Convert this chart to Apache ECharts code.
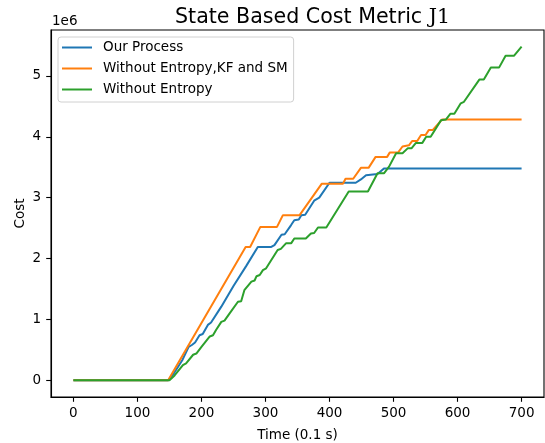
<!DOCTYPE html>
<html>
<head>
<meta charset="utf-8">
<script src="https://cdn.jsdelivr.net/npm/echarts@6/dist/echarts.min.js"></script>
<style>html,body{margin:0;padding:0;background:#fff;}#c{width:545px;height:443px;}</style>
</head>
<body>
<div id="c"></div>
<script>
// values in units of 1e6
const seriesNames = ['Our Process', 'Without Entropy,KF and SM', 'Without Entropy'];
const xTicks = [0, 100, 200, 300, 400, 500, 600, 700];
const yTicks = [0, 1, 2, 3, 4, 5];

const ourT = [0,148,156,170,180,185,190,197,202,210,215,231,250,270,288,309,314,325,330,340,345,352,356,362,376,384,400,441,449,457,475,485,700];
const ourV = [0,0,0.10,0.33,0.55,0.58,0.62,0.74,0.76,0.91,0.95,1.21,1.55,1.88,2.19,2.19,2.22,2.39,2.40,2.55,2.63,2.64,2.71,2.72,2.95,3.00,3.245,3.245,3.30,3.37,3.39,3.48,3.48];

const kfT = [0,148,269,276,292,318,327,353,388,421,425,437,449,461,472,490,494,507,514,524,529,537,543,550,555,561,576,700];
const kfV = [0,0,2.19,2.19,2.52,2.52,2.71,2.71,3.23,3.23,3.31,3.31,3.49,3.49,3.67,3.67,3.74,3.74,3.84,3.86,3.93,3.93,4.03,4.03,4.11,4.11,4.285,4.285];

const entT = [0,150,158,171,176,187,192,200,213,218,223,231,236,244,257,262,267,278,283,286,291,296,301,319,324,332,340,345,363,371,376,382,395,430,460,475,485,493,504,514,522,528,535,545,551,558,574,582,589,595,605,610,634,641,652,665,675,688,700];
const entV = [0,0,0.08,0.25,0.28,0.42,0.44,0.55,0.72,0.74,0.83,0.96,0.98,1.10,1.29,1.30,1.48,1.62,1.64,1.71,1.73,1.81,1.84,2.14,2.16,2.25,2.25,2.33,2.33,2.41,2.42,2.51,2.51,3.10,3.10,3.40,3.40,3.51,3.73,3.73,3.81,3.81,3.90,3.90,4.00,4.00,4.27,4.285,4.38,4.38,4.55,4.575,4.94,4.94,5.14,5.14,5.33,5.33,5.48];

const colors = ['#1f77b4', '#ff7f0e', '#2ca02c'];
const zip = (t, v) => t.map((x, i) => [x, v[i]]);
const FONT = 'DejaVu Sans';
const FS = 13.5;

const chart = echarts.init(document.getElementById('c'), null, {renderer: 'canvas'});
chart.setOption({
  animation: false,
  backgroundColor: '#fff',
  color: colors,
  title: {
    text: '{a|State Based Cost Metric }{b|J1}',
    left: 170, top: 2,
    textStyle: {
      fontWeight: 'normal',
      rich: {
        a: {fontFamily: FONT, fontSize: 20.6, fontWeight: 'normal', color: '#000'},
        b: {fontFamily: 'DejaVu Serif', fontSize: 20.6, fontWeight: 'normal', color: '#000'}
      }
    }
  },
  grid: {left: 51, right: 1, top: 30, bottom: 46, show: true, borderColor: '#000', borderWidth: 1.1, containLabel: false, outerBoundsMode: 'none'},
  legend: {
    left: 58, top: 37,
    orient: 'vertical',
    data: seriesNames,
    icon: 'rect',
    itemWidth: 30, itemHeight: 2,
    itemGap: 6,
    padding: [3, 6, 5, 4],
    backgroundColor: 'rgba(255,255,255,0.8)',
    borderColor: '#d0d0d0', borderWidth: 1, borderRadius: 3,
    textStyle: {fontFamily: FONT, fontSize: FS, color: '#000', lineHeight: 15, padding: [0, 0, 0, 6]}
  },
  graphic: [{
    type: 'text', left: 52, top: 14,
    style: {text: '1e6', fontFamily: FONT, fontSize: FS, fill: '#000'}
  }],
  xAxis: {
    type: 'value', min: -35, max: 735,
    name: 'Time (0.1 s)', nameLocation: 'middle', nameGap: 31,
    nameTextStyle: {fontFamily: FONT, fontSize: FS, color: '#000'},
    splitLine: {show: false},
    axisLine: {onZero: false, lineStyle: {color: '#000', width: 1.1}},
    axisTick: {show: true, length: 4.8, lineStyle: {color: '#000', width: 1.1}, customValues: xTicks},
    axisLabel: {fontFamily: FONT, fontSize: FS, color: '#000', margin: 9, customValues: xTicks}
  },
  yAxis: {
    type: 'value', min: -0.274, max: 5.754,
    name: 'Cost', nameLocation: 'middle', nameGap: 24, nameRotate: 90, nameMoveOverlap: false,
    nameTextStyle: {fontFamily: FONT, fontSize: FS, color: '#000'},
    splitLine: {show: false},
    axisLine: {onZero: false, lineStyle: {color: '#000', width: 1.1}},
    axisTick: {show: true, length: 4.8, lineStyle: {color: '#000', width: 1.1}, customValues: yTicks},
    axisLabel: {fontFamily: FONT, fontSize: FS, color: '#000', margin: 10, customValues: yTicks, formatter: v => String(Math.round(v))}
  },
  series: [
    {name: seriesNames[0], type: 'line', data: zip(ourT, ourV), showSymbol: false, lineStyle: {width: 2}},
    {name: seriesNames[1], type: 'line', data: zip(kfT, kfV), showSymbol: false, lineStyle: {width: 2}},
    {name: seriesNames[2], type: 'line', data: zip(entT, entV), showSymbol: false, lineStyle: {width: 2}}
  ]
});
</script>
</body>
</html>
